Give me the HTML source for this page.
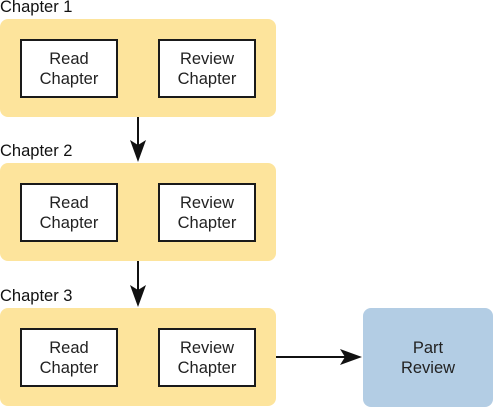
<!DOCTYPE html>
<html><head><style>
body{margin:0;width:493px;height:407px;background:#fff;position:relative;overflow:hidden;font-family:"Liberation Sans",sans-serif;}
.lbl{position:absolute;left:0;font-size:16.5px;color:#111;line-height:16px;}
.grp{position:absolute;left:0;width:276px;height:98px;background:#fde49c;border-radius:8px;}
.b{position:absolute;top:20px;width:94px;height:55px;background:#fff;border:2px solid #1a1a1a;display:flex;align-items:center;justify-content:center;text-align:center;font-size:16.5px;line-height:20px;color:#222;}
.pr{position:absolute;left:363px;top:308px;width:130px;height:99px;background:#b3cde4;border-radius:8px;display:flex;align-items:center;justify-content:center;text-align:center;font-size:16.5px;line-height:20px;color:#222;}
</style></head><body>
<div class="lbl" style="top:-1px">Chapter 1</div>
<div class="grp" style="top:19px"><div class="b" style="left:20px">Read<br>Chapter</div><div class="b" style="left:158px">Review<br>Chapter</div></div>
<div class="lbl" style="top:143px">Chapter 2</div>
<div class="grp" style="top:163px"><div class="b" style="left:20px">Read<br>Chapter</div><div class="b" style="left:158px">Review<br>Chapter</div></div>
<div class="lbl" style="top:288px">Chapter 3</div>
<div class="grp" style="top:308px"><div class="b" style="left:20px">Read<br>Chapter</div><div class="b" style="left:158px">Review<br>Chapter</div></div>
<div class="pr">Part<br>Review</div>
<svg width="493" height="407" style="position:absolute;left:0;top:0">
<g stroke="#111" stroke-width="2" fill="#111">
<line x1="138" y1="117" x2="138" y2="150"/>
<polygon points="130,140 138,162 146,140 138,145" stroke="none"/>
<line x1="138" y1="261" x2="138" y2="295"/>
<polygon points="130,285 138,307 146,285 138,290" stroke="none"/>
<line x1="276" y1="357" x2="350" y2="357"/>
<polygon points="340,349 362,357 340,365 345,357" stroke="none"/>
</g></svg>
</body></html>
